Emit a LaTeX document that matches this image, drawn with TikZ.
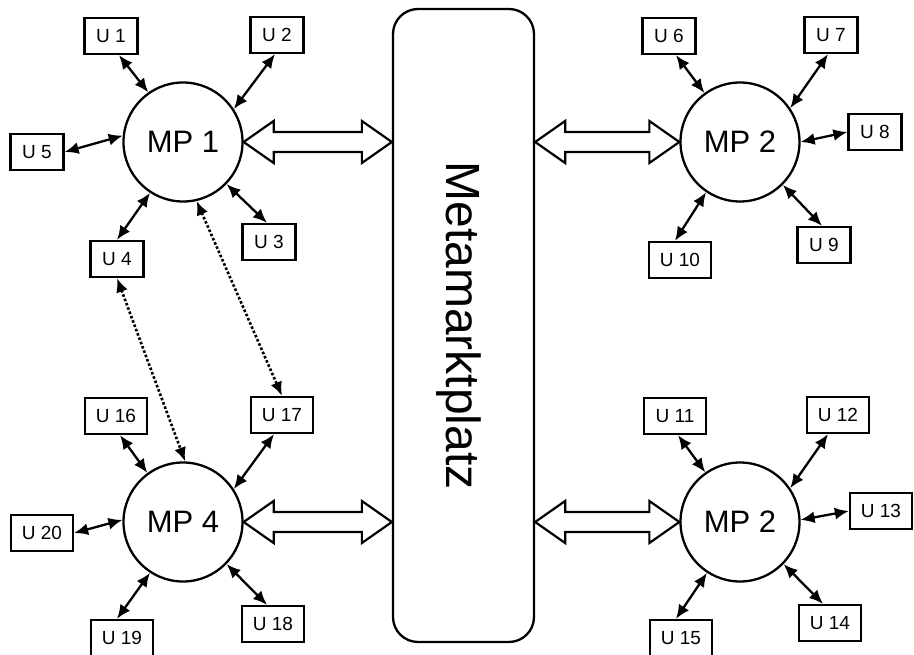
\documentclass[tikz,border=0pt]{standalone}
\usepackage{fontspec}
\setmainfont{Liberation Sans}
\usetikzlibrary{arrows.meta,calc}
\newcommand\fatarrow[2]{\draw[big] let \p1=(#1), \p2=(#2) in (\x1,\y1) -- (\x1+30pt,\y1+21pt) -- (\x1+30pt,\y1+10pt) -- (\x2-30pt,\y1+10pt) -- (\x2-30pt,\y1+21pt) -- (\x2,\y1) -- (\x2-30pt,\y1-21pt) -- (\x2-30pt,\y1-10pt) -- (\x1+30pt,\y1-10pt) -- (\x1+30pt,\y1-21pt) -- cycle;}
\begin{document}
\begin{tikzpicture}[x=1pt,y=-1pt,
 ubox/.style={draw, line width=2.3pt, minimum width=53pt, minimum height=36pt, inner sep=0pt, font=\fontsize{19}{19}\selectfont},
 uboxw/.style={ubox, minimum width=62pt},
 mp/.style={draw, circle, line width=2.3pt, minimum size=119pt, inner sep=0pt, font=\fontsize{31}{31}\selectfont},
 link/.style={line width=2.3pt, {Latex[length=14pt,width=12pt]}-{Latex[length=14pt,width=12pt]}},
 dlink/.style={line width=2.6pt, dash pattern=on 2.6pt off 2pt, {Latex[length=14pt,width=12pt]}-{Latex[length=14pt,width=12pt]}},
 big/.style={line width=2.2pt, fill=white}
]
\useasboundingbox (0,0) rectangle (914,655);

\node[mp] (mp1) at (183,142) {MP 1};
\node[mp] (mp2) at (740,142) {MP 2};
\node[mp] (mp4) at (183,522) {MP 4};
\node[mp] (mp3) at (740,522) {MP 2};
\node[draw, line width=2.3pt, rounded corners=25pt, minimum width=141pt, minimum height=633pt] (meta) at (463.5,325.5) {};
\node[rotate=-90, anchor=base, inner sep=0pt, font=\fontsize{48}{48}\selectfont] (metalabel) at (446,325.5) {Metamarktplatz};

\node[ubox] (u1) at (111,36) {U 1};
\node[ubox] (u2) at (277,35) {U 2};
\node[ubox] (u3) at (269,242) {U 3};
\node[ubox] (u4) at (117,259) {U 4};
\node[ubox] (u5) at (37,152) {U 5};
\node[ubox] (u6) at (669,36) {U 6};
\node[ubox] (u7) at (831,35) {U 7};
\node[ubox] (u8) at (875,132) {U 8};
\node[ubox] (u9) at (824,245) {U 9};
\node[uboxw] (u10) at (680,260) {U 10};
\node[uboxw] (u11) at (675,416) {U 11};
\node[uboxw] (u12) at (838,415) {U 12};
\node[uboxw] (u13) at (881,511) {U 13};
\node[uboxw] (u14) at (830,623) {U 14};
\node[uboxw] (u15) at (681,638) {U 15};
\node[uboxw] (u16) at (116,416) {U 16};
\node[uboxw] (u17) at (282,415) {U 17};
\node[uboxw] (u18) at (273,624) {U 18};
\node[uboxw] (u19) at (122,638) {U 19};
\node[uboxw] (u20) at (42,533) {U 20};

\draw[link] ([xshift=8pt]u1.south) -- (mp1.125);
\draw[link] ([xshift=-2pt]u2.south) -- (mp1.33);
\draw[link] ([xshift=-2pt]u3.north) -- (mp1.-44);
\draw[link] (u4.north) -- (mp1.237);
\draw[link] (u5.east) -- (mp1.174);

\draw[link] ([xshift=4pt]u16.south) -- (mp4.126);
\draw[link] ([xshift=-8pt]u17.south) -- (mp4.33);
\draw[link] ([xshift=-6pt]u18.north) -- (mp4.-44);
\draw[link] ([xshift=-5pt]u19.north) -- (mp4.237);
\draw[link] (u20.east) -- (mp4.178);

\draw[link] ([xshift=7pt]u6.south) -- (mp2.126);
\draw[link] ([xshift=-3pt]u7.south) -- (mp2.34);
\draw[link] (u8.west) -- (mp2.0);
\draw[link] ([xshift=-2pt]u9.north) -- (mp2.-45);
\draw[link] ([xshift=-5pt]u10.north) -- (mp2.236);

\draw[link] ([xshift=3pt]u11.south) -- (mp3.125);
\draw[link] ([xshift=-10pt]u12.south) -- (mp3.34);
\draw[link] (u13.west) -- (mp3.2);
\draw[link] ([xshift=-7pt]u14.north) -- (mp3.-44);
\draw[link] ([xshift=-5pt]u15.north) -- (mp3.237);

\draw[dlink] (mp1.-77) -- (u17.north);
\draw[dlink] (u4.south) -- (mp4.88);

\fatarrow{mp1.east}{meta.west |- mp1.east}
\fatarrow{meta.east |- mp2.west}{mp2.west}
\fatarrow{mp4.east}{meta.west |- mp4.east}
\fatarrow{meta.east |- mp3.west}{mp3.west}
\end{tikzpicture}
\end{document}
